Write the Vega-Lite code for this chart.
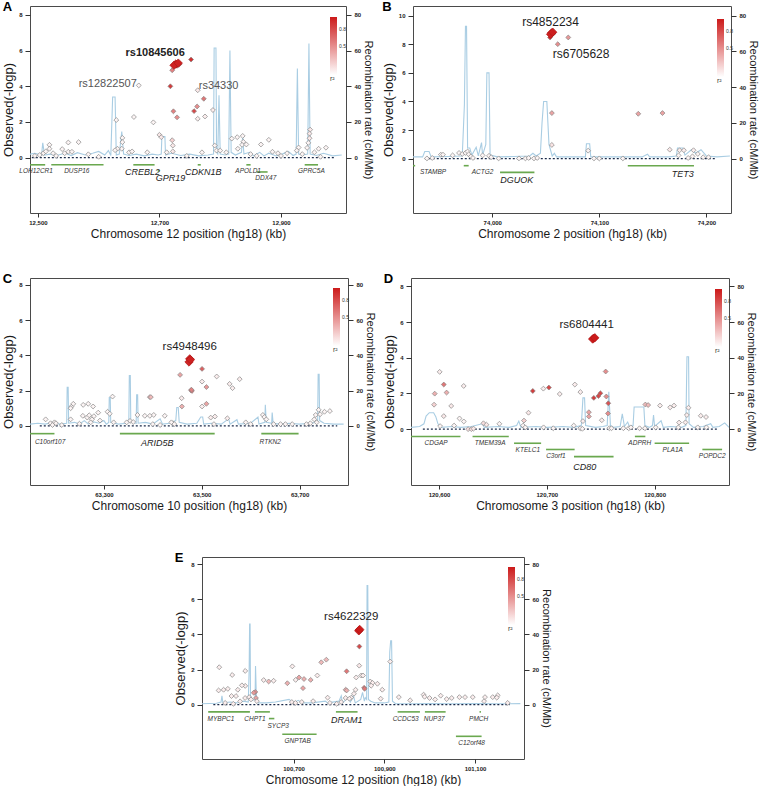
{
"$schema": "https://vega.github.io/schema/vega-lite/v6.json",
"background": "white",
"padding": {"left": 2, "right": 0, "top": 0, "bottom": 0},
"config": {
 "font": "Liberation Sans",
 "view": {"stroke": "#4a4a4a", "strokeWidth": 1},
 "axis": {"grid": false, "domain": false, "tickSize": 5, "tickColor": "#333", "labelFontSize": 6, "labelFontWeight": "bold", "labelColor": "#222", "labelPadding": 3, "titleFontWeight": "normal", "titleColor": "#1a1a1a", "titlePadding": 3},
 "axisX": {"titleFontSize": 12, "tickSize": 4, "labelPadding": 2, "titlePadding": 3},
 "axisY": {"titleFontSize": 13},
 "title": {"fontSize": 13, "fontWeight": "bold", "anchor": "start", "frame": "bounds", "offset": -8, "color": "#000"},
 "legend": {"orient": "none", "direction": "vertical", "gradientLength": 58, "gradientThickness": 7, "gradientStrokeWidth": 0, "labelFontSize": 5, "labelOffset": -8, "labelColor": "#333", "titleFontSize": 7, "titleFontWeight": "normal", "titleOrient": "bottom", "titlePadding": 0, "titleColor": "#333"}
},
"datasets": {
 "baseA": [{"kb": 12490, "kb2": 12988, "p": 0}],
 "baseB": [{"kb": 73937, "kb2": 74208, "p": 0}],
 "baseC": [{"kb": 63169, "kb2": 63777, "p": 0}],
 "baseD": [{"kb": 120585, "kb2": 120858, "p": 0}],
 "baseE": [{"kb": 100523, "kb2": 101177, "p": 0}],
 "recA": [{"kb":12487,"rate":2},{"kb":12495,"rate":2.5},{"kb":12506,"rate":1.5},{"kb":12508,"rate":8.3},{"kb":12511,"rate":1.5},{"kb":12520,"rate":2},{"kb":12530,"rate":1.2},{"kb":12545,"rate":2.5},{"kb":12555,"rate":1.2},{"kb":12565,"rate":2.8},{"kb":12578,"rate":1.5},{"kb":12590,"rate":2.5},{"kb":12600,"rate":3.5},{"kb":12610,"rate":1.5},{"kb":12616,"rate":4},{"kb":12620,"rate":1.2},{"kb":12623,"rate":34},{"kb":12627,"rate":34},{"kb":12629,"rate":1.5},{"kb":12634,"rate":2},{"kb":12638,"rate":14.6},{"kb":12641,"rate":2},{"kb":12650,"rate":1.2},{"kb":12662,"rate":2},{"kb":12675,"rate":1},{"kb":12688,"rate":2},{"kb":12698,"rate":1.5},{"kb":12703,"rate":2},{"kb":12704,"rate":11.8},{"kb":12709,"rate":11.8},{"kb":12710,"rate":1.5},{"kb":12720,"rate":2.5},{"kb":12735,"rate":1.2},{"kb":12750,"rate":2},{"kb":12765,"rate":1},{"kb":12780,"rate":1.5},{"kb":12789,"rate":2},{"kb":12790,"rate":61.5},{"kb":12793,"rate":61.5},{"kb":12794,"rate":3},{"kb":12796,"rate":2},{"kb":12798,"rate":35},{"kb":12800,"rate":2},{"kb":12808,"rate":1.5},{"kb":12814,"rate":2},{"kb":12816,"rate":60},{"kb":12818,"rate":3},{"kb":12825,"rate":1.5},{"kb":12835,"rate":3},{"kb":12837,"rate":12},{"kb":12839,"rate":2},{"kb":12848,"rate":3},{"kb":12855,"rate":1},{"kb":12865,"rate":3},{"kb":12872,"rate":1},{"kb":12880,"rate":2.5},{"kb":12892,"rate":1},{"kb":12902,"rate":2},{"kb":12912,"rate":3.5},{"kb":12920,"rate":1.2},{"kb":12925,"rate":2},{"kb":12927,"rate":50},{"kb":12929,"rate":2},{"kb":12936,"rate":1.5},{"kb":12944,"rate":2},{"kb":12946,"rate":64},{"kb":12948,"rate":2},{"kb":12958,"rate":1.2},{"kb":12970,"rate":2.5},{"kb":12985,"rate":1},{"kb":13000,"rate":1.5}],
 "snpA": [{"kb":12727,"p":5.25,"r2":1,"lead":1,"snp":"rs10845606"},{"kb":12724,"p":5.18,"r2":0.97,"lead":1},{"kb":12731,"p":5.3,"r2":0.97,"lead":1},{"kb":12729,"p":5.15,"r2":0.95},{"kb":12733,"p":5.24,"r2":0.95},{"kb":12752,"p":5.5,"r2":0.9},{"kb":12721,"p":4.9,"r2":0.55},{"kb":12718,"p":4.0,"r2":0.85},{"kb":12666,"p":4.05,"r2":0.05,"snp":"rs12822507"},{"kb":12763,"p":3.78,"r2":0.1,"snp":"rs34330"},{"kb":12773,"p":3.3,"r2":0.6},{"kb":12762,"p":2.87,"r2":0.5},{"kb":12757,"p":2.61,"r2":0.8},{"kb":12723,"p":2.6,"r2":0.55},{"kb":12729,"p":2.26,"r2":0.5},{"kb":12788,"p":2.67,"r2":0.08},{"kb":12775,"p":2.31,"r2":0.08},{"kb":12763,"p":2.18,"r2":0.08},{"kb":12658,"p":2.28,"r2":0.05},{"kb":12690,"p":1.98,"r2":0.05},{"kb":12629,"p":2.11,"r2":0.05},{"kb":12700,"p":1.28,"r2":0.1},{"kb":12703,"p":1.15,"r2":0.1},{"kb":12721,"p":0.98,"r2":0.2},{"kb":12722,"p":0.68,"r2":0.1},{"kb":12722,"p":0.35,"r2":0.1},{"kb":12639,"p":1.11,"r2":0.05},{"kb":12639,"p":0.87,"r2":0.05},{"kb":12638,"p":0.5,"r2":0.05},{"kb":12631,"p":0.5,"r2":0.05},{"kb":12627,"p":0.42,"r2":0.05},{"kb":12791,"p":0.68,"r2":0.05},{"kb":12794,"p":0.4,"r2":0.05},{"kb":12819,"p":1.07,"r2":0.05},{"kb":12828,"p":1.15,"r2":0.05},{"kb":12837,"p":1.22,"r2":0.05},{"kb":12838,"p":0.89,"r2":0.05},{"kb":12836,"p":0.72,"r2":0.05},{"kb":12829,"p":0.5,"r2":0.05},{"kb":12843,"p":0.74,"r2":0.05},{"kb":12880,"p":1.0,"r2":0.05},{"kb":12867,"p":0.74,"r2":0.05},{"kb":12886,"p":0.33,"r2":0.05},{"kb":12895,"p":0.25,"r2":0.05},{"kb":12948,"p":1.57,"r2":0.1},{"kb":12947,"p":1.35,"r2":0.1},{"kb":12947,"p":1.09,"r2":0.1},{"kb":12945,"p":0.83,"r2":0.05},{"kb":12943,"p":0.55,"r2":0.05},{"kb":12929,"p":0.57,"r2":0.05},{"kb":12926,"p":0.4,"r2":0.05},{"kb":12962,"p":0.5,"r2":0.05},{"kb":12974,"p":0.56,"r2":0.05},{"kb":12550,"p":0.85,"r2":0.05},{"kb":12567,"p":0.87,"r2":0.05},{"kb":12540,"p":0.48,"r2":0.05},{"kb":12519,"p":0.72,"r2":0.05},{"kb":12519,"p":0.5,"r2":0.05},{"kb":12509,"p":0.25,"r2":0.05},{"kb":12503,"p":0.15,"r2":0.05},{"kb":12525,"p":0.25,"r2":0.05},{"kb":12550,"p":0.33,"r2":0.05},{"kb":12556,"p":0.33,"r2":0.05},{"kb":12544,"p":0.25,"r2":0.05},{"kb":12583,"p":0.19,"r2":0.05},{"kb":12495,"p":0.1,"r2":0.05},{"kb":12513,"p":0.35,"r2":0.05},{"kb":12530,"p":0.1,"r2":0.05},{"kb":12600,"p":0.05,"r2":0.05},{"kb":12650,"p":0.3,"r2":0.05},{"kb":12655,"p":0.35,"r2":0.05},{"kb":12680,"p":0.3,"r2":0.05},{"kb":12712,"p":0.3,"r2":0.05},{"kb":12745,"p":0.1,"r2":0.05},{"kb":12770,"p":0.3,"r2":0.05},{"kb":12800,"p":0.4,"r2":0.05},{"kb":12810,"p":0.3,"r2":0.05},{"kb":12850,"p":0.2,"r2":0.05},{"kb":12860,"p":0.1,"r2":0.05},{"kb":12900,"p":0.1,"r2":0.05},{"kb":12910,"p":0.25,"r2":0.05},{"kb":12935,"p":0.2,"r2":0.05},{"kb":12955,"p":0.3,"r2":0.05},{"kb":12965,"p":0.05,"r2":0.05}],
 "geneA": [{"g":"LOH12CR1","kb":12470,"kb2":12512,"p":-0.4,"lab":12497,"major":0},{"g":"DUSP16","kb":12522,"kb2":12608,"p":-0.4,"lab":12564,"major":0},{"g":"CREBL2","kb":12657,"kb2":12692,"p":-0.4,"lab":12672,"major":1},{"g":"GPR19","kb":12697,"kb2":12700,"p":-0.74,"lab":12718,"major":1},{"g":"CDKN1B","kb":12763,"kb2":12768,"p":-0.4,"lab":12772,"major":1},{"g":"APOLD1","kb":12843,"kb2":12850,"p":-0.4,"lab":12846,"major":0},{"g":"DDX47","kb":12860,"kb2":12878,"p":-0.8,"lab":12875,"major":0},{"g":"GPRC5A","kb":12939,"kb2":12961,"p":-0.4,"lab":12950,"major":0}],
 "recB": [{"kb":73926,"rate":1},{"kb":73935,"rate":1},{"kb":73937,"rate":4},{"kb":73941,"rate":4},{"kb":73943,"rate":1},{"kb":73960,"rate":1.2},{"kb":73972,"rate":1.5},{"kb":73974,"rate":30},{"kb":73975,"rate":74},{"kb":73976,"rate":74},{"kb":73977,"rate":6},{"kb":73979,"rate":6},{"kb":73981,"rate":2},{"kb":73985,"rate":6.4},{"kb":73987,"rate":1.5},{"kb":73990,"rate":9},{"kb":73991,"rate":2},{"kb":73994,"rate":8},{"kb":73995,"rate":48},{"kb":73997,"rate":48},{"kb":73998,"rate":2},{"kb":74005,"rate":1},{"kb":74020,"rate":1.2},{"kb":74035,"rate":1.5},{"kb":74038,"rate":3},{"kb":74041,"rate":1.5},{"kb":74045,"rate":3},{"kb":74046.5,"rate":20},{"kb":74048,"rate":32},{"kb":74051,"rate":32},{"kb":74052,"rate":20},{"kb":74053,"rate":8},{"kb":74056,"rate":1.5},{"kb":74058,"rate":3},{"kb":74060,"rate":1},{"kb":74075,"rate":1},{"kb":74087,"rate":1},{"kb":74088,"rate":8.3},{"kb":74091,"rate":8.3},{"kb":74092,"rate":1},{"kb":74110,"rate":1},{"kb":74140,"rate":1},{"kb":74145,"rate":2.5},{"kb":74147,"rate":1},{"kb":74165,"rate":1},{"kb":74172,"rate":1.5},{"kb":74173,"rate":6},{"kb":74178,"rate":6},{"kb":74180,"rate":2},{"kb":74186,"rate":5},{"kb":74190,"rate":3},{"kb":74195,"rate":5},{"kb":74200,"rate":1.5},{"kb":74210,"rate":1},{"kb":74222,"rate":1.5}],
 "snpB": [{"kb":74055.4,"p":8.8,"r2":1,"lead":1,"snp":"rs4852234"},{"kb":74054.5,"p":8.7,"r2":0.98,"lead":1},{"kb":74056.5,"p":8.85,"r2":0.98,"lead":1},{"kb":74055,"p":8.65,"r2":0.97},{"kb":74057,"p":8.75,"r2":0.97},{"kb":74054,"p":8.48,"r2":0.9},{"kb":74061.2,"p":8.01,"r2":0.5,"snp":"rs6705628"},{"kb":74071,"p":8.48,"r2":0.45},{"kb":74055.7,"p":3.19,"r2":0.4},{"kb":74055.7,"p":0.96,"r2":0.12},{"kb":74136.4,"p":3.14,"r2":0.4},{"kb":74159,"p":3.19,"r2":0.4},{"kb":74089.6,"p":0.56,"r2":0.05},{"kb":74165.8,"p":0.63,"r2":0.1},{"kb":74175,"p":0.59,"r2":0.08},{"kb":74179,"p":0.59,"r2":0.08},{"kb":74174,"p":0.23,"r2":0.05},{"kb":74188,"p":0.59,"r2":0.08},{"kb":74192,"p":0.33,"r2":0.05},{"kb":74187,"p":0.16,"r2":0.05},{"kb":74197,"p":0.1,"r2":0.05},{"kb":74202,"p":0.1,"r2":0.05},{"kb":74183,"p":0.05,"r2":0.05},{"kb":73939,"p":0.02,"r2":0.05},{"kb":73952,"p":0.28,"r2":0.05},{"kb":73954,"p":0.28,"r2":0.05},{"kb":73963,"p":0.23,"r2":0.05},{"kb":73969,"p":0.4,"r2":0.05},{"kb":73972,"p":0.33,"r2":0.05},{"kb":73975,"p":0.4,"r2":0.05},{"kb":73977,"p":0.5,"r2":0.05},{"kb":73978,"p":0.3,"r2":0.05},{"kb":73980,"p":0.15,"r2":0.05},{"kb":73982,"p":0.05,"r2":0.05},{"kb":73991,"p":0.23,"r2":0.05},{"kb":73997,"p":0.2,"r2":0.05},{"kb":73999,"p":0.1,"r2":0.05},{"kb":74006,"p":0.02,"r2":0.05},{"kb":74025,"p":0.02,"r2":0.05},{"kb":74031,"p":0.02,"r2":0.05},{"kb":74034,"p":0.05,"r2":0.05},{"kb":74039,"p":0.02,"r2":0.05},{"kb":74042,"p":0.05,"r2":0.05},{"kb":74095,"p":0.02,"r2":0.05},{"kb":74100,"p":0.02,"r2":0.05},{"kb":74122,"p":0.02,"r2":0.05},{"kb":73944,"p":0.05,"r2":0.05}],
 "geneB": [{"g":"STAMBP","kb":73900,"kb2":73928,"p":-0.49,"lab":73944.7,"major":0},{"g":"ACTG2","kb":73973.4,"kb2":73978,"p":-0.49,"lab":73991,"major":0},{"g":"DGUOK","kb":74007.3,"kb2":74039.4,"p":-0.96,"lab":74023,"major":1},{"g":"TET3","kb":74126.6,"kb2":74188.4,"p":-0.49,"lab":74178,"major":1}],
 "recC": [{"kb":63149,"rate":1},{"kb":63165,"rate":1.5},{"kb":63180,"rate":1},{"kb":63195,"rate":2},{"kb":63210,"rate":1},{"kb":63224,"rate":1.5},{"kb":63225,"rate":21.9},{"kb":63227,"rate":21.9},{"kb":63228,"rate":1.5},{"kb":63240,"rate":2},{"kb":63250,"rate":1},{"kb":63260,"rate":3},{"kb":63268,"rate":1},{"kb":63275,"rate":2.5},{"kb":63290,"rate":1.5},{"kb":63300,"rate":3},{"kb":63305,"rate":1},{"kb":63310,"rate":2},{"kb":63311,"rate":16},{"kb":63313,"rate":16},{"kb":63314,"rate":2},{"kb":63330,"rate":1},{"kb":63345,"rate":1.5},{"kb":63351,"rate":2},{"kb":63352,"rate":28.5},{"kb":63354,"rate":28.5},{"kb":63355,"rate":2},{"kb":63366,"rate":1.5},{"kb":63367,"rate":17.6},{"kb":63369,"rate":17.6},{"kb":63370,"rate":1.5},{"kb":63385,"rate":2},{"kb":63400,"rate":1},{"kb":63415,"rate":4},{"kb":63420,"rate":1},{"kb":63435,"rate":1.5},{"kb":63447,"rate":3},{"kb":63449,"rate":10.4},{"kb":63452,"rate":10.4},{"kb":63454,"rate":2},{"kb":63470,"rate":1},{"kb":63490,"rate":1.5},{"kb":63498,"rate":5},{"kb":63502,"rate":5},{"kb":63504,"rate":1},{"kb":63520,"rate":1.5},{"kb":63540,"rate":1},{"kb":63555,"rate":4},{"kb":63558,"rate":1},{"kb":63572,"rate":3.5},{"kb":63575,"rate":1},{"kb":63600,"rate":1.5},{"kb":63615,"rate":5},{"kb":63617,"rate":1},{"kb":63629,"rate":2},{"kb":63630,"rate":11.9},{"kb":63632,"rate":2},{"kb":63643,"rate":1.5},{"kb":63644,"rate":7.5},{"kb":63646,"rate":1.5},{"kb":63660,"rate":1},{"kb":63680,"rate":1.5},{"kb":63700,"rate":1},{"kb":63720,"rate":1.5},{"kb":63737,"rate":2},{"kb":63738,"rate":29.3},{"kb":63740,"rate":29.3},{"kb":63741,"rate":3},{"kb":63750,"rate":1.5},{"kb":63770,"rate":1},{"kb":63790,"rate":1}],
 "snpC": [{"kb":63475.5,"p":3.8,"r2":1,"lead":1,"snp":"rs4948496"},{"kb":63474,"p":3.62,"r2":0.95,"lead":1},{"kb":63477,"p":3.75,"r2":0.97,"lead":1},{"kb":63500.7,"p":3.23,"r2":0.7},{"kb":63455.8,"p":2.89,"r2":0.4},{"kb":63530.6,"p":2.8,"r2":0.08},{"kb":63557,"p":2.38,"r2":0.08},{"kb":63563,"p":2.14,"r2":0.08},{"kb":63577.6,"p":2.65,"r2":0.08},{"kb":63500.7,"p":2.51,"r2":0.08},{"kb":63509.6,"p":2.2,"r2":0.45},{"kb":63478,"p":2.02,"r2":0.6},{"kb":63480,"p":1.98,"r2":0.6},{"kb":63479,"p":2.05,"r2":0.55},{"kb":63459,"p":1.57,"r2":0.08},{"kb":63459.5,"p":1.1,"r2":0.35},{"kb":63500.7,"p":1.1,"r2":0.08},{"kb":63509.6,"p":1.25,"r2":0.4},{"kb":63518.4,"p":0.47,"r2":0.08},{"kb":63527,"p":0.53,"r2":0.08},{"kb":63552.4,"p":0.43,"r2":0.08},{"kb":63393.9,"p":1.63,"r2":0.3},{"kb":63396,"p":1.63,"r2":0.3},{"kb":63368.7,"p":0.62,"r2":0.05},{"kb":63383.7,"p":0.57,"r2":0.05},{"kb":63394,"p":0.57,"r2":0.05},{"kb":63402,"p":0.62,"r2":0.05},{"kb":63424.5,"p":0.57,"r2":0.05},{"kb":63353.4,"p":0.28,"r2":0.05},{"kb":63346.6,"p":0.2,"r2":0.05},{"kb":63360,"p":0.22,"r2":0.05},{"kb":63317.7,"p":1.66,"r2":0.05},{"kb":63307.5,"p":0.8,"r2":0.05},{"kb":63312,"p":0.69,"r2":0.05},{"kb":63320,"p":0.2,"r2":0.05},{"kb":63288.4,"p":0.75,"r2":0.05},{"kb":63279.6,"p":0.55,"r2":0.05},{"kb":63292,"p":0.3,"r2":0.05},{"kb":63257.7,"p":1.19,"r2":0.05},{"kb":63268,"p":1.25,"r2":0.05},{"kb":63278,"p":1.1,"r2":0.05},{"kb":63234,"p":1.1,"r2":0.05},{"kb":63237.5,"p":1.25,"r2":0.05},{"kb":63232,"p":1.0,"r2":0.05},{"kb":63232,"p":0.37,"r2":0.05},{"kb":63257,"p":0.57,"r2":0.05},{"kb":63266,"p":0.47,"r2":0.05},{"kb":63270,"p":0.6,"r2":0.05},{"kb":63275.6,"p":0.37,"r2":0.05},{"kb":63273,"p":0.2,"r2":0.05},{"kb":63181,"p":0.37,"r2":0.05},{"kb":63191,"p":0.15,"r2":0.05},{"kb":63199,"p":0.2,"r2":0.05},{"kb":63202,"p":0.15,"r2":0.05},{"kb":63195,"p":0.05,"r2":0.05},{"kb":63214,"p":0.05,"r2":0.05},{"kb":63250,"p":0.12,"r2":0.05},{"kb":63441,"p":0.15,"r2":0.05},{"kb":63438,"p":0.2,"r2":0.05},{"kb":63444,"p":0.1,"r2":0.05},{"kb":63525,"p":0.1,"r2":0.05},{"kb":63590,"p":0.2,"r2":0.05},{"kb":63625,"p":0.62,"r2":0.05},{"kb":63628,"p":0.5,"r2":0.05},{"kb":63632,"p":0.37,"r2":0.05},{"kb":63647,"p":0.1,"r2":0.05},{"kb":63661,"p":0.1,"r2":0.05},{"kb":63671,"p":0.1,"r2":0.05},{"kb":63714,"p":0.1,"r2":0.05},{"kb":63722,"p":0.15,"r2":0.05},{"kb":63730,"p":0.37,"r2":0.05},{"kb":63733,"p":0.62,"r2":0.05},{"kb":63739,"p":0.91,"r2":0.05},{"kb":63742,"p":0.66,"r2":0.05},{"kb":63751,"p":0.8,"r2":0.05},{"kb":63762,"p":0.84,"r2":0.05},{"kb":63735,"p":0.2,"r2":0.05},{"kb":63400,"p":0.1,"r2":0.05},{"kb":63600,"p":0.1,"r2":0.05},{"kb":63685,"p":0.1,"r2":0.05},{"kb":63415,"p":0.05,"r2":0.05}],
 "geneC": [{"g":"C10orf107","kb":63140,"kb2":63199,"p":-0.44,"lab":63190,"major":0},{"g":"ARID5B","kb":63332.7,"kb2":63526.5,"p":-0.44,"lab":63409,"major":1},{"g":"RTKN2","kb":63621.8,"kb2":63698,"p":-0.44,"lab":63640,"major":0}],
 "recD": [{"kb":120574,"rate":1},{"kb":120582,"rate":1.5},{"kb":120586,"rate":3},{"kb":120588,"rate":7.3},{"kb":120591,"rate":9.2},{"kb":120595,"rate":9.2},{"kb":120597,"rate":7},{"kb":120599,"rate":3},{"kb":120602,"rate":1},{"kb":120612,"rate":1.5},{"kb":120620,"rate":1},{"kb":120630,"rate":1.5},{"kb":120640,"rate":3},{"kb":120642,"rate":1},{"kb":120655,"rate":1.5},{"kb":120665,"rate":1},{"kb":120672,"rate":2},{"kb":120674,"rate":4.5},{"kb":120676,"rate":1},{"kb":120690,"rate":1.5},{"kb":120700,"rate":1},{"kb":120715,"rate":1.5},{"kb":120725,"rate":1},{"kb":120732,"rate":2},{"kb":120733.5,"rate":17.5},{"kb":120735,"rate":17.5},{"kb":120736,"rate":2},{"kb":120745,"rate":1},{"kb":120752,"rate":1.5},{"kb":120756,"rate":2},{"kb":120757.5,"rate":21},{"kb":120759,"rate":2},{"kb":120762,"rate":1},{"kb":120768,"rate":1.5},{"kb":120770,"rate":8.6},{"kb":120772,"rate":1.5},{"kb":120775,"rate":4},{"kb":120777,"rate":1},{"kb":120780,"rate":2},{"kb":120781,"rate":12.4},{"kb":120790,"rate":12.4},{"kb":120791,"rate":2},{"kb":120795,"rate":1},{"kb":120798,"rate":2},{"kb":120799,"rate":7.9},{"kb":120800,"rate":1.5},{"kb":120806,"rate":4.7},{"kb":120808,"rate":1},{"kb":120815,"rate":1.5},{"kb":120825,"rate":1},{"kb":120829,"rate":2},{"kb":120830,"rate":40.6},{"kb":120831.5,"rate":40.6},{"kb":120832,"rate":3},{"kb":120836,"rate":1},{"kb":120845,"rate":1.5},{"kb":120852,"rate":3},{"kb":120854,"rate":1},{"kb":120860,"rate":1.5},{"kb":120865,"rate":3.5},{"kb":120869,"rate":1}],
 "snpD": [{"kb":120743.5,"p":5.09,"r2":1,"lead":1,"snp":"rs6804441"},{"kb":120742.5,"p":5.05,"r2":1,"lead":1},{"kb":120744.5,"p":5.12,"r2":1,"lead":1},{"kb":120600.6,"p":3.21,"r2":0.08},{"kb":120604.4,"p":2.5,"r2":0.6},{"kb":120596,"p":1.99,"r2":0.35},{"kb":120607,"p":2.05,"r2":0.35},{"kb":120595.4,"p":1.37,"r2":0.2},{"kb":120611.3,"p":1.3,"r2":0.1},{"kb":120604.4,"p":0.73,"r2":0.1},{"kb":120601,"p":0.17,"r2":0.05},{"kb":120622.9,"p":2.42,"r2":0.08},{"kb":120619,"p":0.6,"r2":0.05},{"kb":120623,"p":0.43,"r2":0.05},{"kb":120614,"p":0.2,"r2":0.05},{"kb":120627,"p":0.0,"r2":0.15},{"kb":120630,"p":0.0,"r2":0.15},{"kb":120632,"p":0.03,"r2":0.1},{"kb":120641.2,"p":0.33,"r2":0.15},{"kb":120644,"p":0.25,"r2":0.1},{"kb":120656,"p":0.3,"r2":0.05},{"kb":120678.8,"p":0.48,"r2":0.2},{"kb":120683,"p":0.92,"r2":0.1},{"kb":120678,"p":0.2,"r2":0.05},{"kb":120680,"p":0.1,"r2":0.05},{"kb":120687,"p":2.14,"r2":0.85},{"kb":120696.8,"p":2.27,"r2":0.08},{"kb":120701.9,"p":2.33,"r2":0.8},{"kb":120712,"p":1.97,"r2":0.08},{"kb":120726,"p":2.5,"r2":0.08},{"kb":120731.1,"p":2.08,"r2":0.08},{"kb":120743.6,"p":1.75,"r2":0.85},{"kb":120747.9,"p":1.86,"r2":0.8},{"kb":120749.7,"p":2.01,"r2":0.8},{"kb":120754.6,"p":3.23,"r2":0.5},{"kb":120755.2,"p":1.83,"r2":0.5},{"kb":120757,"p":1.45,"r2":0.75},{"kb":120756.7,"p":0.88,"r2":0.5},{"kb":120739,"p":0.95,"r2":0.4},{"kb":120739,"p":0.71,"r2":0.4},{"kb":120733.5,"p":0.45,"r2":0.08},{"kb":120751,"p":0.5,"r2":0.08},{"kb":120725,"p":0.2,"r2":0.05},{"kb":120731,"p":0.05,"r2":0.05},{"kb":120733,"p":0.02,"r2":0.05},{"kb":120758,"p":0.05,"r2":0.05},{"kb":120760,"p":0.05,"r2":0.05},{"kb":120771,"p":0.05,"r2":0.05},{"kb":120776,"p":0.05,"r2":0.05},{"kb":120778,"p":0.1,"r2":0.05},{"kb":120791.4,"p":1.38,"r2":0.3},{"kb":120794,"p":1.35,"r2":0.3},{"kb":120805,"p":1.32,"r2":0.08},{"kb":120814.4,"p":1.22,"r2":0.08},{"kb":120818,"p":1.32,"r2":0.08},{"kb":120831.4,"p":1.2,"r2":0.08},{"kb":120829.9,"p":0.79,"r2":0.08},{"kb":120828.6,"p":0.38,"r2":0.08},{"kb":120822.7,"p":0.37,"r2":0.08},{"kb":120842.8,"p":0.75,"r2":0.08},{"kb":120847.7,"p":0.68,"r2":0.08},{"kb":120786,"p":0.05,"r2":0.05},{"kb":120791,"p":0.05,"r2":0.05},{"kb":120801,"p":0.1,"r2":0.05},{"kb":120822,"p":0.1,"r2":0.05},{"kb":120840,"p":0.1,"r2":0.05},{"kb":120848,"p":0.1,"r2":0.05},{"kb":120706,"p":0.05,"r2":0.05},{"kb":120697,"p":0.1,"r2":0.05}],
 "geneD": [{"g":"CDGAP","kb":120560,"kb2":120619.9,"p":-0.41,"lab":120597.3,"major":0},{"g":"TMEM39A","kb":120631.1,"kb2":120664.7,"p":-0.41,"lab":120647.4,"major":0},{"g":"KTELC1","kb":120669.6,"kb2":120694.7,"p":-0.79,"lab":120682.4,"major":0},{"g":"C3orf1","kb":120699.3,"kb2":120725.8,"p":-1.14,"lab":120708.4,"major":0},{"g":"CD80","kb":120725.2,"kb2":120761.9,"p":-1.54,"lab":120735.2,"major":1},{"g":"ADPRH","kb":120781.7,"kb2":120791.4,"p":-0.41,"lab":120786.2,"major":0},{"g":"PLA1A","kb":120800,"kb2":120832,"p":-0.79,"lab":120816.8,"major":0},{"g":"POPDC2","kb":120844.3,"kb2":120862.6,"p":-1.14,"lab":120853.4,"major":0}],
 "recE": [{"kb":100498,"rate":0.5},{"kb":100530,"rate":0.8},{"kb":100540,"rate":1.5},{"kb":100542,"rate":5},{"kb":100544,"rate":1},{"kb":100560,"rate":1.5},{"kb":100575,"rate":1},{"kb":100590,"rate":2},{"kb":100600,"rate":1.5},{"kb":100602,"rate":20},{"kb":100603,"rate":45.8},{"kb":100604,"rate":45.8},{"kb":100605,"rate":3},{"kb":100610,"rate":2.5},{"kb":100615,"rate":3},{"kb":100616,"rate":22},{"kb":100618,"rate":3},{"kb":100622,"rate":1},{"kb":100640,"rate":1},{"kb":100660,"rate":1.5},{"kb":100690,"rate":3},{"kb":100700,"rate":1},{"kb":100710,"rate":2.5},{"kb":100720,"rate":1},{"kb":100740,"rate":1},{"kb":100770,"rate":2},{"kb":100775,"rate":1},{"kb":100800,"rate":2},{"kb":100805,"rate":5},{"kb":100808,"rate":1},{"kb":100820,"rate":4},{"kb":100825,"rate":1.5},{"kb":100832,"rate":5},{"kb":100836,"rate":1},{"kb":100848,"rate":3},{"kb":100852,"rate":7},{"kb":100856,"rate":2},{"kb":100858,"rate":4},{"kb":100861,"rate":3},{"kb":100862,"rate":67.8},{"kb":100863.5,"rate":67.8},{"kb":100865,"rate":3},{"kb":100870,"rate":2},{"kb":100880,"rate":1},{"kb":100900,"rate":1},{"kb":100910,"rate":1.5},{"kb":100912,"rate":30},{"kb":100914,"rate":36.3},{"kb":100916,"rate":36.3},{"kb":100918,"rate":2},{"kb":100925,"rate":0.5},{"kb":100960,"rate":0.5},{"kb":101000,"rate":0.6},{"kb":101050,"rate":0.5},{"kb":101100,"rate":0.6},{"kb":101150,"rate":0.5},{"kb":101200,"rate":0.6}],
 "snpE": [{"kb":100844.7,"p":4.24,"r2":1,"lead":1,"snp":"rs4622329"},{"kb":100843.7,"p":4.2,"r2":1,"lead":1},{"kb":100845.7,"p":4.28,"r2":1,"lead":1},{"kb":100845,"p":3.31,"r2":0.8},{"kb":100844.7,"p":2.22,"r2":0.1},{"kb":100816.9,"p":1.9,"r2":0.6},{"kb":100849,"p":1.66,"r2":0.08},{"kb":100853,"p":1.66,"r2":0.08},{"kb":100868.9,"p":1.32,"r2":0.08},{"kb":100874,"p":1.24,"r2":0.08},{"kb":100855.5,"p":0.96,"r2":0.65},{"kb":100856.5,"p":0.9,"r2":0.6},{"kb":100871,"p":1.08,"r2":0.08},{"kb":100884.8,"p":1.19,"r2":0.08},{"kb":100895.5,"p":0.85,"r2":0.08},{"kb":100892,"p":0.34,"r2":0.08},{"kb":100838,"p":1.55,"r2":0.08},{"kb":100836.6,"p":0.85,"r2":0.08},{"kb":100833,"p":0.62,"r2":0.08},{"kb":100827,"p":0.4,"r2":0.08},{"kb":100814.7,"p":0.85,"r2":0.35},{"kb":100817,"p":0.81,"r2":0.35},{"kb":100814.7,"p":0.38,"r2":0.08},{"kb":100823,"p":0.34,"r2":0.08},{"kb":100805,"p":0.15,"r2":0.08},{"kb":100775,"p":0.4,"r2":0.08},{"kb":100772.1,"p":2.56,"r2":0.3},{"kb":100761,"p":2.41,"r2":0.3},{"kb":100752.3,"p":1.66,"r2":0.08},{"kb":100737.6,"p":1.41,"r2":0.35},{"kb":100722.9,"p":1.46,"r2":0.35},{"kb":100712,"p":1.55,"r2":0.4},{"kb":100704.5,"p":1.41,"r2":0.08},{"kb":100697.2,"p":2.18,"r2":0.08},{"kb":100686.2,"p":1.22,"r2":0.35},{"kb":100720.7,"p":0.94,"r2":0.4},{"kb":100655.9,"p":1.36,"r2":0.08},{"kb":100645,"p":1.32,"r2":0.3},{"kb":100634,"p":1.4,"r2":0.08},{"kb":100615.6,"p":0.72,"r2":0.5},{"kb":100612,"p":0.68,"r2":0.45},{"kb":100617,"p":0.38,"r2":0.4},{"kb":100619,"p":0.2,"r2":0.08},{"kb":100593.3,"p":1.92,"r2":0.08},{"kb":100593.3,"p":1.07,"r2":0.08},{"kb":100586,"p":1.1,"r2":0.08},{"kb":100577,"p":0.85,"r2":0.08},{"kb":100573,"p":0.49,"r2":0.08},{"kb":100563,"p":0.49,"r2":0.08},{"kb":100564.6,"p":1.69,"r2":0.08},{"kb":100536,"p":2.13,"r2":0.08},{"kb":100534.6,"p":0.81,"r2":0.08},{"kb":100545.6,"p":0.85,"r2":0.08},{"kb":100555,"p":0.9,"r2":0.08},{"kb":100593,"p":0.38,"r2":0.08},{"kb":100582,"p":0.19,"r2":0.08},{"kb":100549,"p":0.1,"r2":0.08},{"kb":100567,"p":0.05,"r2":0.08},{"kb":100602,"p":0.43,"r2":0.08},{"kb":100606,"p":0.3,"r2":0.08},{"kb":100696,"p":0.15,"r2":0.08},{"kb":100704,"p":0.1,"r2":0.08},{"kb":100718,"p":0.15,"r2":0.08},{"kb":100743,"p":0.2,"r2":0.08},{"kb":100780,"p":0.1,"r2":0.08},{"kb":100795,"p":0.05,"r2":0.08},{"kb":100913,"p":2.45,"r2":0.08},{"kb":100932,"p":0.43,"r2":0.08},{"kb":100957,"p":0.25,"r2":0.08},{"kb":100986.6,"p":0.57,"r2":0.08},{"kb":100988.8,"p":0.45,"r2":0.08},{"kb":100999.8,"p":0.38,"r2":0.08},{"kb":101012,"p":0.3,"r2":0.08},{"kb":101024.3,"p":0.51,"r2":0.08},{"kb":101037.5,"p":0.32,"r2":0.08},{"kb":101048.6,"p":0.38,"r2":0.08},{"kb":101065.5,"p":0.43,"r2":0.08},{"kb":101078,"p":0.43,"r2":0.08},{"kb":101095,"p":0.43,"r2":0.08},{"kb":101120,"p":0.2,"r2":0.08},{"kb":101122,"p":0.43,"r2":0.08},{"kb":101139,"p":0.43,"r2":0.08},{"kb":101150,"p":0.53,"r2":0.08},{"kb":101148,"p":0.4,"r2":0.08},{"kb":101172,"p":0.1,"r2":0.08}],
 "geneE": [{"g":"MYBPC1","kb":100511.7,"kb2":100603.6,"p":-0.41,"lab":100539.7,"major":0},{"g":"CHPT1","kb":100614.7,"kb2":100647.7,"p":-0.41,"lab":100614.7,"major":0},{"g":"SYCP3","kb":100645.5,"kb2":100657.5,"p":-0.79,"lab":100666,"major":0},{"g":"GNPTAB","kb":100675,"kb2":100750.7,"p":-1.68,"lab":100708.8,"major":0},{"g":"DRAM1","kb":100793.3,"kb2":100841,"p":-0.41,"lab":100816.9,"major":1},{"g":"CCDC53","kb":100929.3,"kb2":100978.5,"p":-0.41,"lab":100947,"major":0},{"g":"NUP37","kb":100989.5,"kb2":101035.2,"p":-0.41,"lab":101010,"major":0},{"g":"PMCH","kb":101110,"kb2":101113,"p":-0.41,"lab":101108,"major":0},{"g":"C12orf48","kb":101057.9,"kb2":101114.5,"p":-1.8,"lab":101092.5,"major":0}]
},
"vconcat": [
 {"vconcat": [
  {"hconcat": [
   {"width": 316, "height": 207, "title": {"text": "A"},
    "encoding": {"x": {"field": "kb", "type": "quantitative", "scale": {"domain": [12487, 13007], "nice": false, "zero": false}, "axis": {"values": [12500, 12700, 12900], "format": ",d", "title": "Chromosome 12 position (hg18) (kb)"}}},
    "layer": [
     {"data": {"name": "recA"}, "mark": {"type": "line", "color": "#a9cde3", "strokeWidth": 1.1, "clip": true},
      "encoding": {"y": {"field": "rate", "type": "quantitative", "scale": {"domain": [-31, 85], "nice": false, "zero": false}, "axis": {"orient": "right", "values": [0, 20, 40, 60, 80], "title": "Recombination rate (cM/Mb)", "titleFontSize": 11, "titlePadding": 2}}}},
     {"encoding": {"y": {"field": "p", "type": "quantitative", "scale": {"domain": [-3.1, 8.5], "nice": false, "zero": false}, "axis": {"orient": "left", "values": [0, 2, 4, 6, 8], "title": "Observed(-logp)"}}},
      "layer": [
       {"data": {"name": "baseA"}, "mark": {"type": "rule", "color": "#1c2b4a", "strokeDash": [2, 2], "strokeWidth": 1.2}, "encoding": {"x2": {"field": "kb2"}}},
       {"data": {"name": "geneA"}, "mark": {"type": "rule", "color": "#6aa84f", "strokeWidth": 1.6, "clip": true}, "encoding": {"x2": {"field": "kb2"}}},
       {"data": {"name": "geneA"}, "transform": [{"filter": "datum.major == 0"}], "mark": {"type": "text", "fontSize": 6.5, "fontStyle": "italic", "color": "#333", "dy": 6}, "encoding": {"x": {"field": "lab", "type": "quantitative"}, "text": {"field": "g"}}},
       {"data": {"name": "geneA"}, "transform": [{"filter": "datum.major == 1"}], "mark": {"type": "text", "fontSize": 9, "fontStyle": "italic", "color": "#222", "dy": 7}, "encoding": {"x": {"field": "lab", "type": "quantitative"}, "text": {"field": "g"}}},
       {"data": {"name": "snpA"}, "transform": [{"filter": "datum.lead != 1"}], "mark": {"type": "point", "shape": "diamond", "filled": true, "opacity": 1, "size": 24, "stroke": "#858585", "strokeWidth": 0.7},
        "encoding": {"fill": {"field": "r2", "type": "quantitative", "scale": {"domain": [0, 1], "range": ["#ffffff", "#cc1a1a"], "interpolate": "rgb"}, "legend": {"type": "gradient", "title": "r²", "values": [0.5, 0.8], "format": ".1f", "legendX": 300, "legendY": 11}}}},
       {"data": {"name": "snpA"}, "transform": [{"filter": "datum.lead == 1"}], "mark": {"type": "point", "shape": "diamond", "filled": true, "opacity": 1, "size": 70, "stroke": "#b01818", "strokeWidth": 0.7},
        "encoding": {"fill": {"field": "r2", "type": "quantitative"}}},
       {"data": {"name": "snpA"}, "transform": [{"filter": "datum.snp == 'rs10845606'"}], "mark": {"type": "text", "align": "right", "dx": 9, "dy": -11, "fontSize": 11, "fontWeight": "bold", "color": "#222"}, "encoding": {"text": {"field": "snp"}}},
       {"data": {"name": "snpA"}, "transform": [{"filter": "datum.snp == 'rs12822507'"}], "mark": {"type": "text", "align": "right", "dx": -2, "dy": -1, "fontSize": 11, "color": "#555"}, "encoding": {"text": {"field": "snp"}}},
       {"data": {"name": "snpA"}, "transform": [{"filter": "datum.snp == 'rs34330'"}], "mark": {"type": "text", "align": "left", "dx": 1, "dy": -4, "fontSize": 11, "color": "#555"}, "encoding": {"text": {"field": "snp"}}}
      ]}
    ],
    "resolve": {"scale": {"y": "independent"}}},
   {"width": 318, "height": 207, "title": {"text": "B"},
    "encoding": {"x": {"field": "kb", "type": "quantitative", "scale": {"domain": [73926, 74223], "nice": false, "zero": false}, "axis": {"values": [74000, 74100, 74200], "format": ",d", "title": "Chromosome 2 position (hg18) (kb)"}}},
    "layer": [
     {"data": {"name": "recB"}, "mark": {"type": "line", "color": "#a9cde3", "strokeWidth": 1.1, "clip": true},
      "encoding": {"y": {"field": "rate", "type": "quantitative", "scale": {"domain": [-30.4, 85.4], "nice": false, "zero": false}, "axis": {"orient": "right", "values": [0, 20, 40, 60, 80], "title": "Recombination rate (cM/Mb)", "titleFontSize": 11, "titlePadding": 2}}}},
     {"encoding": {"y": {"field": "p", "type": "quantitative", "scale": {"domain": [-3.8, 10.68], "nice": false, "zero": false}, "axis": {"orient": "left", "values": [0, 2, 4, 6, 8, 10], "title": "Observed(-logp)"}}},
      "layer": [
       {"data": {"name": "baseB"}, "mark": {"type": "rule", "color": "#1c2b4a", "strokeDash": [2, 2], "strokeWidth": 1.2}, "encoding": {"x2": {"field": "kb2"}}},
       {"data": {"name": "geneB"}, "mark": {"type": "rule", "color": "#6aa84f", "strokeWidth": 1.6, "clip": true}, "encoding": {"x2": {"field": "kb2"}}},
       {"data": {"name": "geneB"}, "transform": [{"filter": "datum.major == 0"}], "mark": {"type": "text", "fontSize": 6.5, "fontStyle": "italic", "color": "#333", "dy": 6}, "encoding": {"x": {"field": "lab", "type": "quantitative"}, "text": {"field": "g"}}},
       {"data": {"name": "geneB"}, "transform": [{"filter": "datum.major == 1"}], "mark": {"type": "text", "fontSize": 9, "fontStyle": "italic", "color": "#222", "dy": 8}, "encoding": {"x": {"field": "lab", "type": "quantitative"}, "text": {"field": "g"}}},
       {"data": {"name": "snpB"}, "transform": [{"filter": "datum.lead != 1"}], "mark": {"type": "point", "shape": "diamond", "filled": true, "opacity": 1, "size": 24, "stroke": "#858585", "strokeWidth": 0.7},
        "encoding": {"fill": {"field": "r2", "type": "quantitative", "scale": {"domain": [0, 1], "range": ["#ffffff", "#cc1a1a"], "interpolate": "rgb"}, "legend": {"type": "gradient", "title": "r²", "values": [0.5, 0.8], "format": ".1f", "legendX": 304, "legendY": 13}}}},
       {"data": {"name": "snpB"}, "transform": [{"filter": "datum.lead == 1"}], "mark": {"type": "point", "shape": "diamond", "filled": true, "opacity": 1, "size": 70, "stroke": "#b01818", "strokeWidth": 0.7},
        "encoding": {"fill": {"field": "r2", "type": "quantitative"}}},
       {"data": {"name": "snpB"}, "transform": [{"filter": "datum.snp == 'rs4852234'"}], "mark": {"type": "text", "align": "center", "dx": -1, "dy": -11, "fontSize": 12, "color": "#222"}, "encoding": {"text": {"field": "snp"}}},
       {"data": {"name": "snpB"}, "transform": [{"filter": "datum.snp == 'rs6705628'"}], "mark": {"type": "text", "align": "left", "dx": -5, "dy": 10, "fontSize": 12, "color": "#222"}, "encoding": {"text": {"field": "snp"}}}
      ]}
    ],
    "resolve": {"scale": {"y": "independent"}}}
  ], "spacing": 6, "resolve": {"scale": {"fill": "independent"}, "legend": {"fill": "independent"}}},
  {"hconcat": [
   {"width": 318, "height": 207, "title": {"text": "C"},
    "encoding": {"x": {"field": "kb", "type": "quantitative", "scale": {"domain": [63149, 63799], "nice": false, "zero": false}, "axis": {"values": [63300, 63500, 63700], "format": ",d", "title": "Chromosome 10 position (hg18) (kb)"}}},
    "layer": [
     {"data": {"name": "recC"}, "mark": {"type": "line", "color": "#a9cde3", "strokeWidth": 1.1, "clip": true},
      "encoding": {"y": {"field": "rate", "type": "quantitative", "scale": {"domain": [-33.5, 83.8], "nice": false, "zero": false}, "axis": {"orient": "right", "values": [0, 20, 40, 60, 80], "title": "Recombination rate (cM/Mb)", "titleFontSize": 11, "titlePadding": 2}}}},
     {"encoding": {"y": {"field": "p", "type": "quantitative", "scale": {"domain": [-3.35, 8.38], "nice": false, "zero": false}, "axis": {"orient": "left", "values": [0, 2, 4, 6, 8], "title": "Observed(-logp)"}}},
      "layer": [
       {"data": {"name": "baseC"}, "mark": {"type": "rule", "color": "#1c2b4a", "strokeDash": [2, 2], "strokeWidth": 1.2}, "encoding": {"x2": {"field": "kb2"}}},
       {"data": {"name": "geneC"}, "mark": {"type": "rule", "color": "#6aa84f", "strokeWidth": 1.6, "clip": true}, "encoding": {"x2": {"field": "kb2"}}},
       {"data": {"name": "geneC"}, "transform": [{"filter": "datum.major == 0"}], "mark": {"type": "text", "fontSize": 6.5, "fontStyle": "italic", "color": "#333", "dy": 8}, "encoding": {"x": {"field": "lab", "type": "quantitative"}, "text": {"field": "g"}}},
       {"data": {"name": "geneC"}, "transform": [{"filter": "datum.major == 1"}], "mark": {"type": "text", "fontSize": 9, "fontStyle": "italic", "color": "#222", "dy": 9}, "encoding": {"x": {"field": "lab", "type": "quantitative"}, "text": {"field": "g"}}},
       {"data": {"name": "snpC"}, "transform": [{"filter": "datum.lead != 1"}], "mark": {"type": "point", "shape": "diamond", "filled": true, "opacity": 1, "size": 24, "stroke": "#858585", "strokeWidth": 0.7},
        "encoding": {"fill": {"field": "r2", "type": "quantitative", "scale": {"domain": [0, 1], "range": ["#ffffff", "#cc1a1a"], "interpolate": "rgb"}, "legend": {"type": "gradient", "title": "r²", "values": [0.5, 0.8], "format": ".1f", "legendX": 303, "legendY": 10}}}},
       {"data": {"name": "snpC"}, "transform": [{"filter": "datum.lead == 1"}], "mark": {"type": "point", "shape": "diamond", "filled": true, "opacity": 1, "size": 70, "stroke": "#b01818", "strokeWidth": 0.7},
        "encoding": {"fill": {"field": "r2", "type": "quantitative"}}},
       {"data": {"name": "snpC"}, "transform": [{"filter": "datum.snp == 'rs4948496'"}], "mark": {"type": "text", "align": "center", "dy": -12, "fontSize": 11.5, "color": "#222"}, "encoding": {"text": {"field": "snp"}}}
      ]}
    ],
    "resolve": {"scale": {"y": "independent"}}},
   {"width": 318, "height": 207, "title": {"text": "D"},
    "encoding": {"x": {"field": "kb", "type": "quantitative", "scale": {"domain": [120574, 120869], "nice": false, "zero": false}, "axis": {"values": [120600, 120700, 120800], "format": ",d", "title": "Chromosome  3 position (hg18) (kb)"}}},
    "layer": [
     {"data": {"name": "recD"}, "mark": {"type": "line", "color": "#a9cde3", "strokeWidth": 1.1, "clip": true},
      "encoding": {"y": {"field": "rate", "type": "quantitative", "scale": {"domain": [-31.3, 84.7], "nice": false, "zero": false}, "axis": {"orient": "right", "values": [0, 20, 40, 60, 80], "title": "Recombination rate (cM/Mb)", "titleFontSize": 11, "titlePadding": 2}}}},
     {"encoding": {"y": {"field": "p", "type": "quantitative", "scale": {"domain": [-3.13, 8.47], "nice": false, "zero": false}, "axis": {"orient": "left", "values": [0, 2, 4, 6, 8], "title": "Observed(-logp)"}}},
      "layer": [
       {"data": {"name": "baseD"}, "mark": {"type": "rule", "color": "#1c2b4a", "strokeDash": [2, 2], "strokeWidth": 1.2}, "encoding": {"x2": {"field": "kb2"}}},
       {"data": {"name": "geneD"}, "mark": {"type": "rule", "color": "#6aa84f", "strokeWidth": 1.6, "clip": true}, "encoding": {"x2": {"field": "kb2"}}},
       {"data": {"name": "geneD"}, "transform": [{"filter": "datum.major == 0"}], "mark": {"type": "text", "fontSize": 6.5, "fontStyle": "italic", "color": "#333", "dy": 7}, "encoding": {"x": {"field": "lab", "type": "quantitative"}, "text": {"field": "g"}}},
       {"data": {"name": "geneD"}, "transform": [{"filter": "datum.major == 1"}], "mark": {"type": "text", "fontSize": 9, "fontStyle": "italic", "color": "#222", "dy": 10}, "encoding": {"x": {"field": "lab", "type": "quantitative"}, "text": {"field": "g"}}},
       {"data": {"name": "snpD"}, "transform": [{"filter": "datum.lead != 1"}], "mark": {"type": "point", "shape": "diamond", "filled": true, "opacity": 1, "size": 24, "stroke": "#858585", "strokeWidth": 0.7},
        "encoding": {"fill": {"field": "r2", "type": "quantitative", "scale": {"domain": [0, 1], "range": ["#ffffff", "#cc1a1a"], "interpolate": "rgb"}, "legend": {"type": "gradient", "title": "r²", "values": [0.5, 0.8], "format": ".1f", "legendX": 304, "legendY": 11}}}},
       {"data": {"name": "snpD"}, "transform": [{"filter": "datum.lead == 1"}], "mark": {"type": "point", "shape": "diamond", "filled": true, "opacity": 1, "size": 70, "stroke": "#b01818", "strokeWidth": 0.7},
        "encoding": {"fill": {"field": "r2", "type": "quantitative"}}},
       {"data": {"name": "snpD"}, "transform": [{"filter": "datum.snp == 'rs6804441'"}], "mark": {"type": "text", "align": "center", "dx": -7, "dy": -13, "fontSize": 11.5, "color": "#222"}, "encoding": {"text": {"field": "snp"}}}
      ]}
    ],
    "resolve": {"scale": {"y": "independent"}}}
  ], "spacing": 6, "resolve": {"scale": {"fill": "independent"}, "legend": {"fill": "independent"}}}
 ], "spacing": 32, "resolve": {"scale": {"fill": "independent"}, "legend": {"fill": "independent"}}},
 {"hconcat": [
   {"width": 144, "height": 10, "data": {"values": []}, "mark": "point", "view": {"stroke": null}},
   {"width": 322, "height": 202, "title": {"text": "E"},
    "encoding": {"x": {"field": "kb", "type": "quantitative", "scale": {"domain": [100498, 101208], "nice": false, "zero": false}, "axis": {"values": [100700, 100900, 101100], "format": ",d", "title": "Chromosome 12 position (hg18) (kb)"}}},
    "layer": [
     {"data": {"name": "recE"}, "mark": {"type": "line", "color": "#a9cde3", "strokeWidth": 1.1, "clip": true},
      "encoding": {"y": {"field": "rate", "type": "quantitative", "scale": {"domain": [-30.9, 84], "nice": false, "zero": false}, "axis": {"orient": "right", "values": [0, 20, 40, 60, 80], "title": "Recombination rate (cM/Mb)", "titleFontSize": 11, "titlePadding": 2}}}},
     {"encoding": {"y": {"field": "p", "type": "quantitative", "scale": {"domain": [-3.09, 8.4], "nice": false, "zero": false}, "axis": {"orient": "left", "values": [0, 2, 4, 6, 8], "title": "Observed(-logp)"}}},
      "layer": [
       {"data": {"name": "baseE"}, "mark": {"type": "rule", "color": "#1c2b4a", "strokeDash": [2, 2], "strokeWidth": 1.2}, "encoding": {"x2": {"field": "kb2"}}},
       {"data": {"name": "geneE"}, "mark": {"type": "rule", "color": "#6aa84f", "strokeWidth": 1.6, "clip": true}, "encoding": {"x2": {"field": "kb2"}}},
       {"data": {"name": "geneE"}, "transform": [{"filter": "datum.major == 0"}], "mark": {"type": "text", "fontSize": 6.5, "fontStyle": "italic", "color": "#333", "dy": 7}, "encoding": {"x": {"field": "lab", "type": "quantitative"}, "text": {"field": "g"}}},
       {"data": {"name": "geneE"}, "transform": [{"filter": "datum.major == 1"}], "mark": {"type": "text", "fontSize": 9, "fontStyle": "italic", "color": "#222", "dy": 8}, "encoding": {"x": {"field": "lab", "type": "quantitative"}, "text": {"field": "g"}}},
       {"data": {"name": "snpE"}, "transform": [{"filter": "datum.lead != 1"}], "mark": {"type": "point", "shape": "diamond", "filled": true, "opacity": 1, "size": 24, "stroke": "#858585", "strokeWidth": 0.7},
        "encoding": {"fill": {"field": "r2", "type": "quantitative", "scale": {"domain": [0, 1], "range": ["#ffffff", "#cc1a1a"], "interpolate": "rgb"}, "legend": {"type": "gradient", "title": "r²", "values": [0.5, 0.8], "format": ".1f", "legendX": 306, "legendY": 10}}}},
       {"data": {"name": "snpE"}, "transform": [{"filter": "datum.lead == 1"}], "mark": {"type": "point", "shape": "diamond", "filled": true, "opacity": 1, "size": 70, "stroke": "#b01818", "strokeWidth": 0.7},
        "encoding": {"fill": {"field": "r2", "type": "quantitative"}}},
       {"data": {"name": "snpE"}, "transform": [{"filter": "datum.snp == 'rs4622329'"}], "mark": {"type": "text", "align": "center", "dx": -8, "dy": -13, "fontSize": 11.5, "color": "#222"}, "encoding": {"text": {"field": "snp"}}}
      ]}
    ],
    "resolve": {"scale": {"y": "independent"}}}
 ], "spacing": 0, "resolve": {"scale": {"fill": "independent"}, "legend": {"fill": "independent"}}}
],
"spacing": 39,
"resolve": {"scale": {"fill": "independent"}, "legend": {"fill": "independent"}}
}
